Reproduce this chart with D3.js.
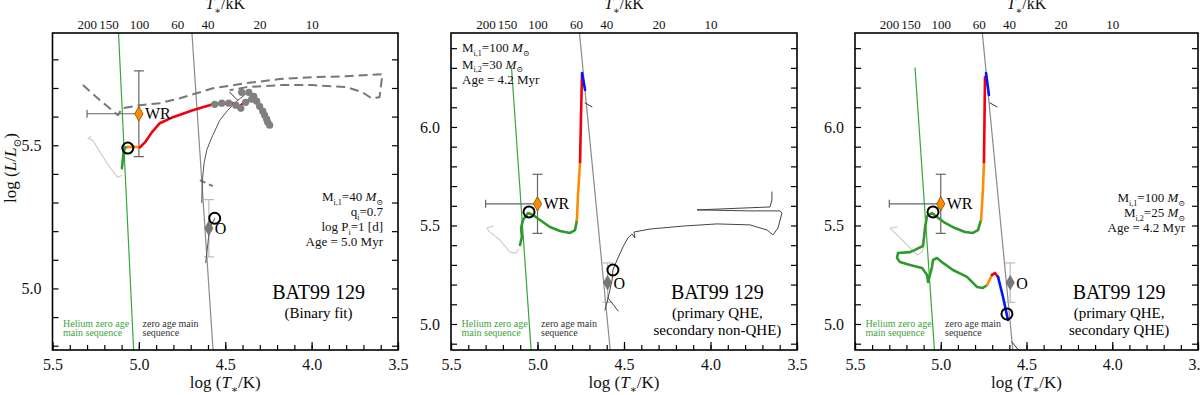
<!DOCTYPE html>
<html>
<head>
<meta charset="utf-8">
<script src="https://cdn.jsdelivr.net/npm/d3@7"></script>
<style>
  body { margin: 0; background: #fff; }
  text { font-family: "Liberation Serif", "DejaVu Serif", serif; }
</style>
</head>
<body>
<div id="chart"></div>
<script>
// ---- tick labels ----
var xMajor = [5.5, 5.0, 4.5, 4.0, 3.5];
var topTicksKK = [200, 150, 100, 60, 40, 20, 10];

// ---- shared reference lines (logT, logL) ----
var zamsLine = [[4.76, 6.50], [4.57, 4.78]];
var heZamsLine = [[5.15, 6.30], [5.03, 4.78]];

// ---- observed stars ----
var wrObs = [5.00, 5.61];
var wrErrT = [5.30, 5.00];
var wrErrL = 0.15;
var oObs = [4.595, 5.21];
var oErrL = 0.10;

// ---- panel 1: binary fit ----
var p1HeStar = [[5.28, 5.53], [5.295, 5.524], [5.266, 5.517], [5.225, 5.476], [5.168, 5.423], [5.121, 5.388], [5.098, 5.395]];
var p1Green = [[5.098, 5.42], [5.093, 5.45], [5.088, 5.478], [5.080, 5.492], [5.064, 5.494]];
var p1Orange = [[5.064, 5.494], [5.03, 5.495], [4.994, 5.493]];
var p1Red = [[4.994, 5.493], [4.965, 5.510], [4.925, 5.545], [4.879, 5.577], [4.803, 5.598], [4.688, 5.622],
  [4.572, 5.643], [4.457, 5.647], [4.416, 5.636], [4.382, 5.654], [4.347, 5.661], [4.312, 5.647],
  [4.277, 5.612], [4.243, 5.570]];
var p1Dots = [[4.561, 5.643], [4.520, 5.647], [4.480, 5.647], [4.439, 5.640], [4.410, 5.629], [4.382, 5.650],
  [4.347, 5.661], [4.318, 5.654], [4.301, 5.636], [4.283, 5.619], [4.272, 5.605], [4.260, 5.591],
  [4.254, 5.580], [4.243, 5.570], [4.405, 5.685], [4.364, 5.685], [4.335, 5.671]];
var p1Dashed = [[5.324, 5.710], [5.225, 5.657], [5.121, 5.605], [5.098, 5.629], [4.994, 5.640], [4.879, 5.647],
  [4.763, 5.664], [4.647, 5.685], [4.572, 5.699], [4.376, 5.717], [4.185, 5.731], [3.994, 5.738],
  [3.798, 5.741], [3.590, 5.748], [3.607, 5.668], [3.653, 5.664], [3.705, 5.685], [3.798, 5.703],
  [3.994, 5.710], [4.185, 5.710], [4.376, 5.703], [4.474, 5.692]];
var p1DashStub = [[4.647, 5.378], [4.572, 5.357]];
var p1SecA = [[4.613, 5.09], [4.600, 5.16], [4.590, 5.21], [4.561, 5.245]];
var p1SecB = [[4.636, 5.30], [4.632, 5.38], [4.622, 5.44], [4.607, 5.483], [4.590, 5.51], [4.572, 5.535],
  [4.532, 5.587], [4.486, 5.622], [4.428, 5.657], [4.382, 5.678]];
var p1SecBranch = [[4.474, 5.685], [4.428, 5.657]];
var p1Models = [[5.064, 5.49], [4.561, 5.245]];

// ---- panel 2: primary QHE, secondary non-QHE ----
var p2HeStar = [[5.257, 5.497], [5.292, 5.487], [5.280, 5.470], [5.217, 5.426], [5.159, 5.365], [5.125, 5.36], [5.108, 5.38]];
var p2Green = [[5.101, 5.401], [5.090, 5.442], [5.095, 5.487], [5.084, 5.528], [5.055, 5.563], [5.026, 5.553],
  [4.986, 5.528], [4.928, 5.492], [4.870, 5.472], [4.812, 5.462], [4.783, 5.477], [4.772, 5.528]];
var p2Orange = [[4.772, 5.528], [4.766, 5.655], [4.754, 5.822]];
var p2Red = [[4.754, 5.822], [4.749, 6.036], [4.743, 6.264]];
var p2Blue = [[4.743, 6.274], [4.725, 6.188]];
var p2Sec = [[4.610, 5.071], [4.592, 5.132], [4.569, 5.223], [4.564, 5.274], [4.540, 5.325], [4.506, 5.391],
  [4.477, 5.437], [4.454, 5.457], [4.437, 5.437], [4.442, 5.467], [4.350, 5.482], [4.159, 5.497],
  [3.962, 5.508], [3.772, 5.503], [3.673, 5.477], [3.639, 5.452], [3.610, 5.487], [3.587, 5.563],
  [3.598, 5.574], [3.772, 5.574], [4.078, 5.579], [3.656, 5.594], [3.645, 5.629], [3.645, 5.670]];
var p2SecSpike = [[4.592, 5.132], [4.534, 5.066]];
var p2Hook = [[4.725, 6.122], [4.685, 6.102]];
var p2Models = [[5.049, 5.569], [4.564, 5.274]];

// ---- panel 3: primary QHE, secondary QHE ----
var p3HeStar = [[5.255, 5.492], [5.296, 5.487], [5.284, 5.477], [5.208, 5.411], [5.138, 5.350], [5.109, 5.365], [5.098, 5.396]];
var p3PrimBlue = [[4.719, 6.162], [4.736, 6.274]];
var p3PrimRed = [[4.742, 6.254], [4.745, 6.036], [4.748, 5.822]];
var p3PrimOrange = [[4.748, 5.822], [4.754, 5.680], [4.765, 5.528]];
var p3Green = [[4.765, 5.528], [4.783, 5.477], [4.812, 5.462], [4.859, 5.467], [4.917, 5.487], [4.975, 5.513],
  [5.022, 5.543], [5.051, 5.563], [5.080, 5.548], [5.092, 5.487], [5.098, 5.437], [5.104, 5.396],
  [5.150, 5.376], [5.179, 5.365], [5.249, 5.360], [5.255, 5.335], [5.238, 5.315], [5.179, 5.299],
  [5.109, 5.284], [5.080, 5.249], [5.074, 5.213], [5.051, 5.289], [5.045, 5.325], [5.022, 5.335],
  [4.987, 5.310], [4.929, 5.274], [4.847, 5.239], [4.789, 5.188], [4.754, 5.183], [4.730, 5.198]];
var p3SecOrange = [[4.730, 5.198], [4.713, 5.228], [4.701, 5.249]];
var p3SecRed = [[4.701, 5.249], [4.684, 5.259], [4.666, 5.239]];
var p3SecBlue = [[4.666, 5.239], [4.637, 5.137], [4.608, 5.020]];
var p3Hook = [[4.713, 6.122], [4.672, 6.102]];
var p3HookLow = [[4.585, 4.909], [4.538, 4.858]];
var p3Models = [[5.045, 5.569], [4.614, 5.051]];

var GREEN = "#2e9a2e", ORANGE = "#ff8c00", RED = "#ee0010", BLUE = "#0018ff";

var svg = d3.select("#chart").append("svg")
  .attr("width", 1200).attr("height", 395);

// text with italic / subscript parts
function rich(g, x, y, parts, size, anchor, fill) {
  var t = g.append("text").attr("x", x).attr("y", y)
    .attr("font-size", size).attr("text-anchor", anchor || "start").attr("fill", fill || "#111");
  var shift = 0;
  parts.forEach(function(p) {
    var st = p[1] || "";
    var s = t.append("tspan").text(p[0]);
    var isSub = st.indexOf("sub") >= 0;
    var want = isSub ? size * 0.3 : 0;
    if (want !== shift) { s.attr("dy", want - shift); shift = want; }
    if (isSub) s.attr("font-size", size * 0.62);
    if (st.indexOf("i") === 0) s.attr("font-style", "italic");
  });
  return t;
}

var panels = [
  { id: 1, x0: 52.5, x1: 398, yDom: [4.785, 5.892], yLab: [5.0, 5.5] },
  { id: 2, x0: 451, x1: 797, yDom: [4.868, 6.477], yLab: [5.0, 5.5, 6.0] },
  { id: 3, x0: 855, x1: 1198, yDom: [4.868, 6.477], yLab: [5.0, 5.5, 6.0] }
];
var yTop = 33, yBot = 350;

panels.forEach(function(cfg) {
  var x = d3.scaleLinear().domain([5.5, 3.5]).range([cfg.x0, cfg.x1]);
  var y = d3.scaleLinear().domain(cfg.yDom).range([yBot, yTop]);
  var line = d3.line().x(function(d) { return x(d[0]); }).y(function(d) { return y(d[1]); });
  var g = svg.append("g");

  svg.append("clipPath").attr("id", "clip" + cfg.id)
    .append("rect").attr("x", cfg.x0).attr("y", yTop)
    .attr("width", cfg.x1 - cfg.x0).attr("height", yBot - yTop);
  var plot = g.append("g").attr("clip-path", "url(#clip" + cfg.id + ")");

  function path(pts, color, w, dash) {
    var p = plot.append("path").datum(pts).attr("d", line)
      .attr("fill", "none").attr("stroke", color).attr("stroke-width", w)
      .attr("stroke-linejoin", "round").attr("stroke-linecap", "round");
    if (dash) p.attr("stroke-dasharray", dash).attr("stroke-linecap", "butt");
  }

  // reference lines
  path(heZamsLine, "#3aa53a", 1.2);
  path(zamsLine, "#8a8a8a", 1.2);

  // observed error bars
  function errBar(x1, y1, x2, y2, color, horiz) {
    plot.append("line").attr("x1", x1).attr("y1", y1).attr("x2", x2).attr("y2", y2)
      .attr("stroke", color).attr("stroke-width", 1.2);
    [[x1, y1], [x2, y2]].forEach(function(c) {
      if (horiz) plot.append("line").attr("x1", c[0]).attr("x2", c[0]).attr("y1", c[1] - 4).attr("y2", c[1] + 4)
        .attr("stroke", color).attr("stroke-width", 1.2);
      else plot.append("line").attr("x1", c[0] - 5).attr("x2", c[0] + 5).attr("y1", c[1]).attr("y2", c[1])
        .attr("stroke", color).attr("stroke-width", 1.2);
    });
  }
  errBar(x(wrErrT[0]), y(wrObs[1]), x(wrErrT[1]), y(wrObs[1]), "#666", true);
  errBar(x(wrObs[0]), y(wrObs[1] + wrErrL), x(wrObs[0]), y(wrObs[1] - wrErrL), "#666", false);
  errBar(x(oObs[0]), y(oObs[1] + oErrL), x(oObs[0]), y(oObs[1] - oErrL), "#bbb", false);

  if (cfg.id === 1) {
    path(p1HeStar, "#cfcfcf", 1.2);
    path(p1Dashed, "#777", 2, "9,5");
    path(p1DashStub, "#777", 2, "6,4");
    path(p1SecA, "#555", 1);
    path(p1SecB, "#555", 1);
    path(p1SecBranch, "#333", 1);
    path(p1Green, GREEN, 2.6);
    path(p1Orange, ORANGE, 2.6);
    path(p1Red, RED, 2.6);
    plot.selectAll(".dot").data(p1Dots).enter().append("circle")
      .attr("cx", function(d) { return x(d[0]); }).attr("cy", function(d) { return y(d[1]); })
      .attr("r", 3.6).attr("fill", "#808080");
  } else if (cfg.id === 2) {
    path(p2HeStar, "#d0d0d0", 1.2);
    path(p2Sec, "#444", 1);
    path(p2SecSpike, "#444", 1);
    path(p2Hook, "#333", 1);
    path(p2Green, GREEN, 2.6);
    path(p2Orange, ORANGE, 2.6);
    path(p2Red, RED, 2.6);
    path(p2Blue, BLUE, 2.6);
  } else {
    path(p3HeStar, "#d0d0d0", 1.2);
    path(p3Hook, "#333", 1);
    path(p3HookLow, "#333", 1);
    path(p3Green, GREEN, 2.6);
    path(p3PrimOrange, ORANGE, 2.6);
    path(p3PrimRed, RED, 2.6);
    path(p3PrimBlue, BLUE, 2.6);
    path(p3SecOrange, ORANGE, 2.6);
    path(p3SecRed, RED, 2.6);
    path(p3SecBlue, BLUE, 2.6);
  }

  var models = cfg.id === 1 ? p1Models : cfg.id === 2 ? p2Models : p3Models;

  // observed diamonds
  var diamond = d3.symbol().type(d3.symbolDiamond).size(60);
  plot.append("path").attr("d", diamond)
    .attr("transform", "translate(" + x(oObs[0]) + "," + y(oObs[1]) + ")")
    .attr("fill", "#777").attr("stroke", "#666").attr("stroke-width", 0.6);
  plot.append("path").attr("d", diamond)
    .attr("transform", "translate(" + x(wrObs[0]) + "," + y(wrObs[1]) + ")")
    .attr("fill", ORANGE).attr("stroke", "#7a4a00").attr("stroke-width", 0.8);

  // model positions
  plot.selectAll(".model").data(models).enter().append("circle")
    .attr("cx", function(d) { return x(d[0]); }).attr("cy", function(d) { return y(d[1]); })
    .attr("r", 5.5).attr("fill", "none").attr("stroke", "#000").attr("stroke-width", 2);

  g.append("text").attr("x", x(wrObs[0]) + 6).attr("y", y(wrObs[1]) + 5.5)
    .attr("font-size", 16).text("WR");
  g.append("text").attr("x", x(oObs[0]) + 6).attr("y", y(oObs[1]) + 6)
    .attr("font-size", 16).text("O");

  // line labels
  var lx = cfg.x0 + 10.5;
  g.append("text").attr("x", lx).attr("y", 327).attr("font-size", 10).attr("fill", "#3aa53a").text("Helium zero age");
  g.append("text").attr("x", lx).attr("y", 335.5).attr("font-size", 10).attr("fill", "#3aa53a").text("main sequence");
  g.append("text").attr("x", cfg.x0 + 90).attr("y", 327).attr("font-size", 10).attr("fill", "#333").text("zero age main");
  g.append("text").attr("x", cfg.x0 + 90).attr("y", 335.5).attr("font-size", 10).attr("fill", "#333").text("sequence");

  // star name
  var nx = x(3.96);
  g.append("text").attr("x", nx).attr("y", 299).attr("font-size", 20).attr("text-anchor", "middle").text("BAT99 129");
  var sub = cfg.id === 1 ? ["(Binary fit)"] :
    cfg.id === 2 ? ["(primary QHE,", "secondary non-QHE)"] : ["(primary QHE,", "secondary QHE)"];
  sub.forEach(function(s, i) {
    g.append("text").attr("x", nx).attr("y", 318 + i * 17).attr("font-size", 15)
      .attr("text-anchor", "middle").text(s);
  });

  // parameter block
  var msun = [["M", "i"], ["\u2299", "sub"]];
  if (cfg.id === 1) {
    var rx = cfg.x1 - 15;
    rich(g, rx, 201, [["M"], ["i,1", "sub"], ["=40  "]].concat(msun), 13, "end");
    rich(g, rx, 216, [["q"], ["i", "sub"], ["=0.7"]], 13, "end");
    rich(g, rx, 231, [["log P"], ["i", "sub"], ["=1 [d]"]], 13, "end");
    rich(g, rx, 246, [["Age = 5.0 Myr"]], 13, "end");
  } else if (cfg.id === 2) {
    var lx2 = cfg.x0 + 11;
    rich(g, lx2, 52, [["M"], ["i,1", "sub"], ["=100  "]].concat(msun), 13, "start");
    rich(g, lx2, 68.5, [["M"], ["i,2", "sub"], ["=30  "]].concat(msun), 13, "start");
    rich(g, lx2, 84, [["Age = 4.2 Myr"]], 13, "start");
  } else {
    var rx3 = cfg.x1 - 13;
    rich(g, rx3, 202, [["M"], ["i,1", "sub"], ["=100  "]].concat(msun), 13, "end");
    rich(g, rx3, 217, [["M"], ["i,2", "sub"], ["=25  "]].concat(msun), 13, "end");
    rich(g, rx3, 232, [["Age = 4.2 Myr"]], 13, "end");
  }

  // axes
  function styleAxis(a) {
    a.attr("font-family", null).attr("font-size", 16);
    a.select(".domain").remove();
    a.selectAll("line").attr("stroke", "#000").attr("stroke-width", 1.2);
    a.selectAll("text").attr("fill", "#111");
  }
  var minorX = d3.range(35, 56).map(function(v) { return v / 10; });
  var yLo = Math.ceil(cfg.yDom[0] * 10), yHi = Math.floor(cfg.yDom[1] * 10);
  var minorY = d3.range(yLo, yHi + 1).map(function(v) { return v / 10; });

  g.append("g").attr("transform", "translate(0," + yBot + ")")
    .call(d3.axisBottom(x).tickValues(minorX).tickSize(-5).tickFormat("")).call(styleAxis);
  g.append("g").attr("transform", "translate(0," + yBot + ")")
    .call(d3.axisBottom(x).tickValues(xMajor).tickSize(-8).tickPadding(9).tickFormat(d3.format(".1f")))
    .call(styleAxis);
  g.append("g").attr("transform", "translate(0," + yTop + ")")
    .call(d3.axisTop(x).tickValues(topTicksKK.map(function(t) { return Math.log10(t * 1000); }))
      .tickSize(0).tickPadding(4).tickFormat(function(d, i) { return topTicksKK[i]; }))
    .call(styleAxis).selectAll("text").attr("font-size", 13);
  g.append("g").attr("transform", "translate(" + cfg.x0 + ",0)")
    .call(d3.axisLeft(y).tickValues(minorY).tickSize(-6).tickFormat("")).call(styleAxis);
  g.append("g").attr("transform", "translate(" + cfg.x0 + ",0)")
    .call(d3.axisLeft(y).tickValues(cfg.yLab).tickSize(0).tickPadding(11).tickFormat(d3.format(".1f")))
    .call(styleAxis);
  g.append("g").attr("transform", "translate(" + cfg.x1 + ",0)")
    .call(d3.axisRight(y).tickValues(minorY).tickSize(-6).tickFormat("")).call(styleAxis);

  g.append("rect").attr("x", cfg.x0).attr("y", yTop)
    .attr("width", cfg.x1 - cfg.x0).attr("height", yBot - yTop)
    .attr("fill", "none").attr("stroke", "#000").attr("stroke-width", 1.6);

  // axis titles
  var cx = (cfg.x0 + cfg.x1) / 2;
  rich(g, cx, 388, [["log ("], ["T", "i"], ["\u2217", "sub"], ["/K)"]], 17, "middle");
  rich(g, cx, 9, [["T", "i"], ["\u2217", "sub"], ["/kK"]], 16, "middle");
});

var yt = svg.append("g").attr("transform", "translate(16,168) rotate(-90)");
rich(yt, 0, 0, [["log ("], ["L", "i"], ["/"], ["L", "i"], ["\u2299", "sub"], [")"]], 17, "middle");
</script>
</body>
</html>
